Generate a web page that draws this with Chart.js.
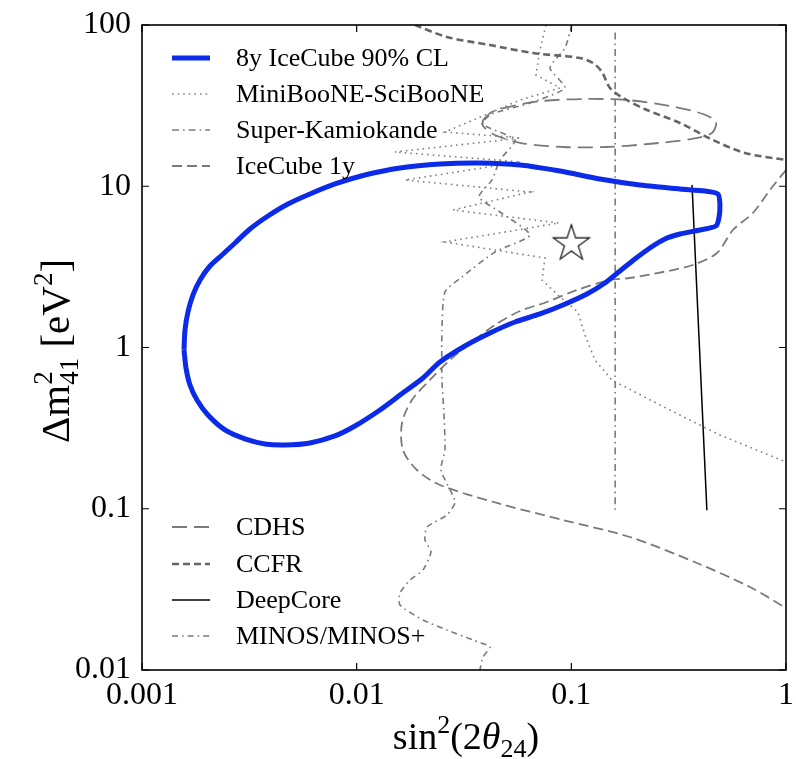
<!DOCTYPE html>
<html><head><meta charset="utf-8">
<script src="https://cdn.jsdelivr.net/npm/chart.js@4"></script>
<style>html,body{margin:0;padding:0;background:#fff}#wrap{width:796px;height:759px;position:relative}</style>
</head><body><div id="wrap"><canvas id="c" width="796" height="759"></canvas></div>
<script>
// ---- data (sin^2(2theta24), Delta m^2_41 [eV^2]) ----
const xTickValues = [0.001, 0.01, 0.1, 1];
const yTickValues = [0.01, 0.1, 1, 10, 100];

const iceCube8yX = [0.001569,0.001586,0.001637,0.001728,0.001863,0.002073,0.002358,0.002712,0.003184,0.003863,0.004786,0.006060,0.007923,0.01093,0.01591,0.02443,0.03752,0.05763,0.08851,0.1359,0.2087,0.3205,0.4191,0.4818,0.4922,0.4870,0.4716,0.3972,0.3205,0.2729,0.2323,0.1978,0.1684,0.1434,0.1182,0.09140,0.07141,0.05462,0.04178,0.03194,0.02443,0.02036,0.01591,0.01284,0.009820,0.007923,0.006060,0.004634,0.003741,0.003018,0.002435,0.002029,0.001804,0.001673,0.001603,0.001569];
const iceCube8yY = [0.965,1.284,1.661,2.117,2.622,3.202,3.747,4.448,5.431,6.539,7.760,8.954,10.33,11.74,12.98,13.74,13.94,13.55,12.43,11.09,10.18,9.616,9.346,8.954,7.650,6.356,5.668,5.354,5.056,4.709,4.141,3.539,2.981,2.512,2.147,1.835,1.614,1.439,1.230,1.022,0.813,0.647,0.507,0.410,0.326,0.283,0.256,0.2485,0.252,0.271,0.308,0.381,0.472,0.585,0.746,0.965];

const miniBooneX = [0.07617,0.07141,0.06841,0.08851,0.05763,0.03673,0.02578,0.05825,0.01508,0.05825,0.01679,0.06416,0.02809,0.08757,0.02578,0.07537,0.07298,0.08757,0.1073,0.1157,0.1288,0.1546,0.2586,0.4922,1.0];
const miniBooneY = [100,69.98,48.98,40.68,34.26,26.50,21.70,19.92,16.31,14.14,10.93,9.213,7.124,5.917,4.511,3.589,2.622,2.086,1.661,1.195,0.8366,0.6288,0.4400,0.2866,0.1950];

const superKX = [0.16, 0.16];
const superKY = [90, 0.098];

const iceCube1yX = [1.0,0.8414,0.7013,0.5658,0.4768,0.3685,0.2672,0.1875,0.1513,0.1062,0.07700,0.05763,0.04409,0.03443,0.02720,0.02195,0.01809,0.01626,0.01643,0.01910,0.02443,0.04504,0.09140,0.1875,0.3846,0.6790,1.0];
const iceCube1yY = [12.61,9.48,6.825,5.354,3.856,3.248,2.939,2.698,2.622,2.273,1.915,1.684,1.379,1.082,0.8366,0.6288,0.4724,0.3402,0.2313,0.1739,0.1404,0.1086,0.08515,0.06680,0.04608,0.03271,0.02425];

const cdhsX = [0.03876,0.04268,0.05346,0.07298,0.1157,0.1816,0.2879,0.4102,0.4716,0.4517,0.3607,0.2274,0.1450,0.09239,0.05825,0.04409,0.03876,0.03876];
const cdhsY = [25.75,28.87,31.46,33.79,34.77,34.26,31.46,28.06,25.03,21.39,19.63,18.28,17.51,17.51,18.54,20.79,23.64,25.75];

const ccfrX = [0.01869,0.02634,0.04178,0.06624,0.1097,0.1261,0.1389,0.1513,0.1740,0.2250,0.3205,0.4565,0.6437,1.0];
const ccfrY = [100,84.26,75.16,67.05,62.43,58.14,51.13,40.68,35.26,29.71,24.68,19.36,16.08,14.55];

const deepCoreX = [0.365, 0.428];
const deepCoreY = [10.2, 0.098];

const minosX = [0.1006,0.09338,0.07948,0.09338,0.06416,0.04268,0.03834,0.05462,0.04651,0.04268,0.03711,0.04651,0.06416,0.04409,0.03094,0.02578,0.02496,0.02496,0.02550,0.02578,0.02470,0.02871,0.02634,0.02126,0.02081,0.02219,0.02036,0.01772,0.01591,0.01591,0.02036,0.02634,0.03480,0.04178,0.03876,0.03752];
const minosY = [100,72.0,54.13,40.68,32.83,28.06,24.33,19.36,14.55,10.93,8.579,6.922,4.985,3.912,2.736,2.209,1.284,0.6288,0.3925,0.2313,0.1739,0.1101,0.09147,0.07702,0.06403,0.05393,0.04171,0.03614,0.03002,0.02530,0.02042,0.01770,0.01535,0.01389,0.01204,0.01];

const bestFitX = [0.1];
const bestFitY = [4.4];

const legendTop = ['8y IceCube 90% CL', 'MiniBooNE-SciBooNE', 'Super-Kamiokande', 'IceCube 1y'];
const legendBottom = ['CDHS', 'CCFR', 'DeepCore', 'MINOS/MINOS+'];

// ---- build ----
const pts = (xs, ys) => xs.map((x, i) => ({x, y: ys[i]}));
const FONT = '"Liberation Serif", "DejaVu Serif", serif';
const GRAY = '#7a7a7a';
const AREA = {left: 142, top: 25, right: 786, bottom: 670};

function makeStar(R) {
  const r = R * 0.382, s = Math.ceil(2 * R + 4);
  const c = document.createElement('canvas'); c.width = s; c.height = s;
  const g = c.getContext('2d');
  g.beginPath();
  for (let i = 0; i < 10; i++) {
    const a = -Math.PI / 2 + i * Math.PI / 5, rr = i % 2 ? r : R;
    g.lineTo(s / 2 + rr * Math.cos(a), s / 2 + rr * Math.sin(a));
  }
  g.closePath(); g.fillStyle = '#fff'; g.fill();
  g.lineWidth = 1.1; g.strokeStyle = '#000'; g.stroke();
  return c;
}

const line = (label, xs, ys, color, width, dash, tension) => ({
  label, data: pts(xs, ys), showLine: true, pointRadius: 0, pointHoverRadius: 0,
  borderColor: color, backgroundColor: color, borderWidth: width, borderDash: dash,
  tension: tension, fill: false, borderCapStyle: 'butt'
});

const dsBlue = line(legendTop[0], iceCube8yX, iceCube8yY, '#0b2be8', 5, [], 0.25);
const dsMB = line(legendTop[1], miniBooneX, miniBooneY, '#808080', 1.6, [1.6, 4], 0);
const dsSK = line(legendTop[2], superKX, superKY, GRAY, 1.6, [7, 4, 1.6, 4], 0);
const dsIC1 = line(legendTop[3], iceCube1yX, iceCube1yY, GRAY, 1.8, [10, 5], 0.3);
const dsCDHS = line(legendBottom[0], cdhsX, cdhsY, GRAY, 1.8, [15, 7], 0.3);
const dsCCFR = line(legendBottom[1], ccfrX, ccfrY, '#666666', 2.6, [7, 4], 0.3);
const dsDeep = line(legendBottom[2], deepCoreX, deepCoreY, '#000000', 1.5, [], 0);
const dsMINOS = line(legendBottom[3], minosX, minosY, GRAY, 1.6, [6, 4, 1.6, 4], 0.2);
const dsStar = {label: 'best fit', data: pts(bestFitX, bestFitY), showLine: false,
  pointStyle: makeStar(19), pointRadius: 19, pointHoverRadius: 19};

function drawParts(ctx, parts, cx, baseY) {
  const ws = []; let total = 0;
  parts.forEach(p => {
    ctx.font = (p.it ? 'italic ' : '') + p.f + 'px ' + FONT;
    const w = p.stack ? Math.max(ctx.measureText(p.stack[0]).width, ctx.measureText(p.stack[1]).width) : ctx.measureText(p.t).width;
    ws.push(w); total += w;
  });
  let x = cx - total / 2;
  ctx.textAlign = 'left'; ctx.textBaseline = 'alphabetic'; ctx.fillStyle = '#000';
  parts.forEach((p, i) => {
    ctx.font = (p.it ? 'italic ' : '') + p.f + 'px ' + FONT;
    if (p.stack) { ctx.fillText(p.stack[0], x, baseY + p.dy[0]); ctx.fillText(p.stack[1], x, baseY + p.dy[1]); }
    else ctx.fillText(p.t, x, baseY + (p.dy || 0));
    x += ws[i];
  });
}

const fixArea = {
  id: 'fixArea',
  afterLayout(chart) {
    const a = chart.chartArea, xs = chart.scales.x, ys = chart.scales.y;
    a.left = AREA.left; a.right = AREA.right; a.top = AREA.top; a.bottom = AREA.bottom;
    a.width = a.right - a.left; a.height = a.bottom - a.top;
    xs.left = a.left; xs.right = a.right; xs.width = a.width; xs.configure();
    ys.top = a.top; ys.bottom = a.bottom; ys.height = a.height; ys.configure();
  }
};

const decor = {
  id: 'decor',
  afterDraw(chart) {
    const ctx = chart.ctx, a = chart.chartArea, xs = chart.scales.x, ys = chart.scales.y;
    ctx.save();
    // inward ticks
    ctx.strokeStyle = '#000'; ctx.lineWidth = 1.2; ctx.setLineDash([]);
    const TL = 7;
    xTickValues.forEach(v => { const p = xs.getPixelForValue(v);
      ctx.beginPath(); ctx.moveTo(p, a.bottom); ctx.lineTo(p, a.bottom - TL); ctx.moveTo(p, a.top); ctx.lineTo(p, a.top + TL); ctx.stroke(); });
    yTickValues.forEach(v => { const p = ys.getPixelForValue(v);
      ctx.beginPath(); ctx.moveTo(a.left, p); ctx.lineTo(a.left + TL, p); ctx.moveTo(a.right, p); ctx.lineTo(a.right - TL, p); ctx.stroke(); });
    // frame
    ctx.lineWidth = 1.6; ctx.strokeRect(a.left, a.top, a.right - a.left, a.bottom - a.top);
    // legends
    const entries = [
      [dsBlue, 58], [dsMB, 94], [dsSK, 130], [dsIC1, 166],
      [dsCDHS, 527], [dsCCFR, 564], [dsDeep, 600], [dsMINOS, 636]
    ];
    entries.forEach(([ds, y]) => {
      ctx.beginPath(); ctx.setLineDash(ds.borderDash || []);
      ctx.strokeStyle = ds.borderColor; ctx.lineWidth = ds.borderWidth; ctx.lineCap = 'butt';
      ctx.moveTo(172, y); ctx.lineTo(210, y); ctx.stroke();
      ctx.setLineDash([]);
      ctx.fillStyle = '#000'; ctx.font = '26px ' + FONT; ctx.textAlign = 'left'; ctx.textBaseline = 'middle';
      ctx.fillText(ds.label, 236, y + 1);
    });
    // axis titles
    drawParts(ctx, [
      {t: 'sin', f: 38}, {t: '2', f: 26, dy: -16}, {t: '(2', f: 38}, {t: 'θ', f: 38, it: true},
      {t: '24', f: 26, dy: 8}, {t: ')', f: 38}
    ], 466, 749);
    ctx.save();
    ctx.translate(69, 351); ctx.rotate(-Math.PI / 2);
    drawParts(ctx, [
      {t: 'Δm', f: 41}, {stack: ['2', '41'], f: 27, dy: [-17, 9]}, {t: ' [eV', f: 41},
      {t: '2', f: 27, dy: -17}, {t: ']', f: 41}
    ], 0, 0);
    ctx.restore();
    ctx.restore();
  }
};

new Chart(document.getElementById('c'), {
  type: 'scatter',
  data: {datasets: [dsBlue, dsStar, dsDeep, dsCCFR, dsIC1, dsCDHS, dsMB, dsSK, dsMINOS]},
  options: {
    responsive: false, animation: false, devicePixelRatio: 1,
    layout: {padding: {top: 25, right: 10, left: 0, bottom: 0}},
    plugins: {legend: {display: false}, tooltip: {enabled: false}, title: {display: false}},
    scales: {
      x: {
        type: 'logarithmic', min: 0.001, max: 1,
        afterBuildTicks: s => { s.ticks = xTickValues.map(v => ({value: v})); },
        afterFit: s => { s.height = 89; },
        grid: {display: false, drawTicks: false}, border: {display: false},
        ticks: {autoSkip: false, maxRotation: 0, padding: 6, color: '#000',
          font: {family: FONT, size: 32}, callback: v => String(v)}
      },
      y: {
        type: 'logarithmic', min: 0.01, max: 100,
        afterBuildTicks: s => { s.ticks = yTickValues.map(v => ({value: v})); },
        afterFit: s => { s.width = 142; },
        grid: {display: false, drawTicks: false}, border: {display: false},
        ticks: {autoSkip: false, padding: 11, color: '#000',
          font: {family: FONT, size: 32}, callback: v => String(v)}
      }
    }
  },
  plugins: [fixArea, decor]
});
</script></body></html>
